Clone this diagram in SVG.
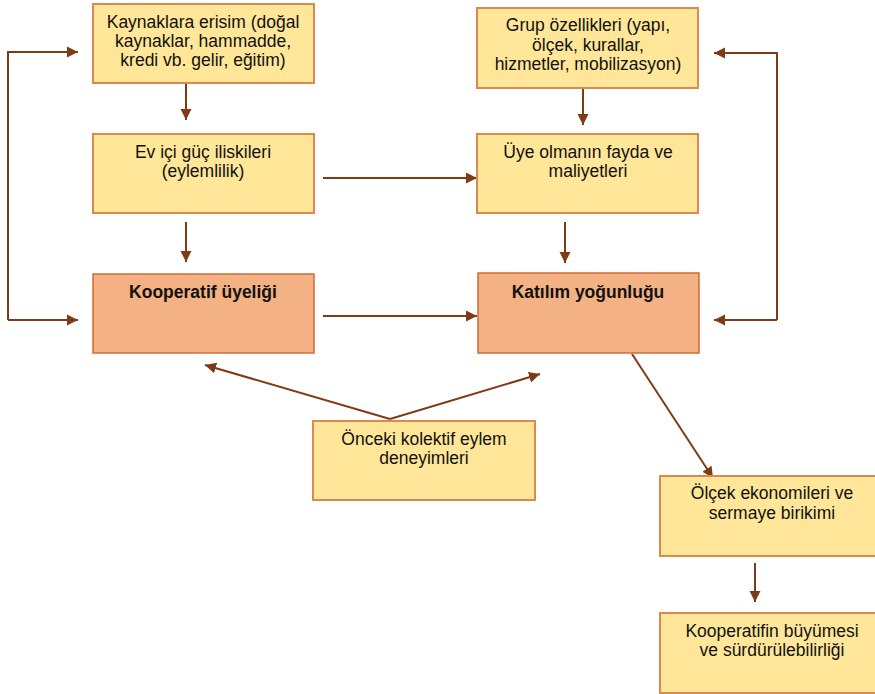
<svg xmlns="http://www.w3.org/2000/svg" width="875" height="694" viewBox="0 0 875 694">
<defs>
<marker id="ah" markerUnits="userSpaceOnUse" markerWidth="12" markerHeight="12" viewBox="0 0 12 12" refX="11" refY="6" orient="auto">
<path d="M0,0.5 L11,6 L0,11.5 Z" fill="#7F3A16"/>
</marker>
<style>
.y{fill:#FFE699;stroke:#DA8A4E;stroke-width:2}
.s{fill:#F4B183;stroke:#D06C36;stroke-width:1.5}
.c{fill:none;stroke:#7F3A16;stroke-width:2;marker-end:url(#ah)}
text{font-family:"Liberation Sans",Arial,sans-serif;font-size:17.5px;fill:#111;text-anchor:middle}
.b{font-weight:bold}
</style>
</defs>
<rect width="875" height="694" fill="#fff"/>
<g id="connectors">
<path class="c" d="M186,84 L186,120"/>
<path class="c" d="M186,222 L186,262"/>
<path class="c" d="M8,320 L8,52 L78,52"/>
<path class="c" d="M8,320 L78,320"/>
<path class="c" d="M323,178 L477,178"/>
<path class="c" d="M323,316 L477,316"/>
<path class="c" d="M583,88 L583,125"/>
<path class="c" d="M565,222 L565,263"/>
<path class="c" d="M777,320 L777,53 L714,53"/>
<path class="c" d="M777,320 L714,320"/>
<path class="c" d="M390,419 L205,365"/>
<path class="c" d="M390,419 L540,374"/>
<path class="c" d="M632,354 L713,478"/>
<path class="c" d="M755,563 L755,602"/>
</g>
<g id="n1"><rect class="y" x="93" y="4" width="221" height="79"/>
<text x="203" y="28">Kaynaklara erisim (doğal</text>
<text x="203" y="47">kaynaklar, hammadde,</text>
<text x="203" y="66">kredi vb. gelir, eğitim)</text></g>
<g id="n2"><rect class="y" x="93" y="134" width="221" height="79"/>
<text x="203" y="158">Ev içi güç iliskileri</text>
<text x="203" y="177">(eylemlilik)</text></g>
<g id="n3"><rect class="s" x="93" y="274" width="221" height="79"/>
<text class="b" x="203" y="298">Kooperatif üyeliği</text></g>
<g id="n4"><rect class="y" x="477" y="8" width="221" height="80"/>
<text x="588" y="31">Grup özellikleri (yapı,</text>
<text x="588" y="51">ölçek, kurallar,</text>
<text x="588" y="70">hizmetler, mobilizasyon)</text></g>
<g id="n5"><rect class="y" x="477" y="134" width="221" height="79"/>
<text x="588" y="158">Üye olmanın fayda ve</text>
<text x="588" y="177">maliyetleri</text></g>
<g id="n6"><rect class="s" x="478" y="273" width="221" height="80"/>
<text class="b" x="588" y="298">Katılım yoğunluğu</text></g>
<g id="n7"><rect class="y" x="313" y="421" width="222" height="79"/>
<text x="424" y="445">Önceki kolektif eylem</text>
<text x="424" y="464">deneyimleri</text></g>
<g id="n8"><rect class="y" x="660" y="476" width="224" height="80"/>
<text x="772" y="499">Ölçek ekonomileri ve</text>
<text x="772" y="519">sermaye birikimi</text></g>
<g id="n9"><rect class="y" x="660" y="613" width="224" height="80"/>
<text x="772" y="637">Kooperatifin büyümesi</text>
<text x="772" y="656">ve sürdürülebilirliği</text></g>
</svg>
